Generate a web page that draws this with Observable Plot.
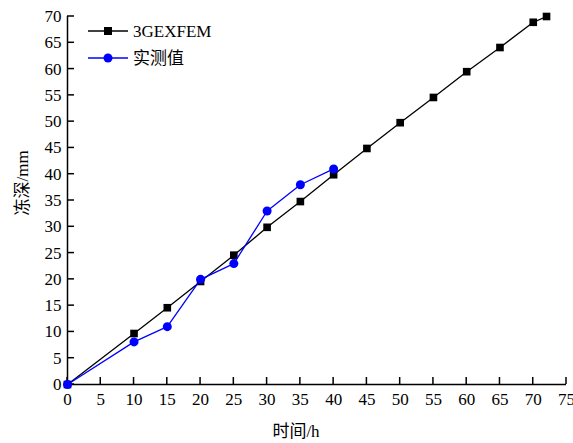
<!DOCTYPE html>
<html>
<head>
<meta charset="utf-8">
<script src="https://cdn.jsdelivr.net/npm/d3@7"></script>
<script src="https://cdn.jsdelivr.net/npm/@observablehq/plot@0.6"></script>
<style>
  html, body { margin: 0; padding: 0; background: #fff; }
  svg { font-family: "Liberation Serif", "Noto Sans CJK SC", serif; }
</style>
</head>
<body>
<div id="chart"></div>
<script>
const femTime = [0, 10, 15, 20, 25, 30, 35, 40, 45, 50, 55, 60, 65, 70, 72];
const femDepth = [0, 9.7, 14.6, 19.6, 24.6, 29.9, 34.8, 39.9, 44.9, 49.8, 54.6, 59.5, 64.1, 68.9, 70];
const obsTime = [0, 10, 15, 20, 25, 30, 35, 40];
const obsDepth = [0, 8.1, 11, 20, 23, 33, 38, 41];
const xTicks = d3.range(0, 76, 5);
const yTicks = d3.range(0, 71, 5);
const seriesNames = ["3GEXFEM", "实测值"];
const xLabel = "时间/h";
const yLabel = "冻深/mm";

const fem = femTime.map((t, i) => ({t, d: femDepth[i]}));
const obs = obsTime.map((t, i) => ({t, d: obsDepth[i]}));

const W = 573, H = 443;
const mL = 67, mR = 7, mT = 16, mB = 59;
const tickLen = 7;

const plot = Plot.plot({
  width: W, height: H,
  marginLeft: mL, marginRight: mR, marginTop: mT, marginBottom: mB,
  style: {fontFamily: '"Liberation Serif", "Noto Sans CJK SC", serif', fontSize: "16px", background: "#fff", color: "#000"},
  x: {domain: [0, 75], ticks: xTicks, tickSize: 0, tickPadding: 8, label: null},
  y: {domain: [0, 70], ticks: yTicks, tickSize: 0, tickPadding: 6, label: null},
  marks: [
    Plot.axisX({ticks: xTicks, tickSize: 0, tickPadding: 8, fontSize: 17, label: null}),
    Plot.axisY({ticks: yTicks, tickSize: 0, tickPadding: 6, fontSize: 17, label: null}),
    Plot.ruleY([0], {stroke: "#000", strokeWidth: 1.5}),
    Plot.ruleX([0], {stroke: "#000", strokeWidth: 1.5}),
    Plot.line(fem, {x: "t", y: "d", stroke: "#000", strokeWidth: 1.3}),
    Plot.dot(fem, {x: "t", y: "d", symbol: "square", r: 4.3, fill: "#000", stroke: "none"}),
    Plot.line(obs, {x: "t", y: "d", stroke: "#0000ff", strokeWidth: 1.3}),
    Plot.dot(obs, {x: "t", y: "d", symbol: "circle", r: 4.5, fill: "#0000ff", stroke: "none"}),
    Plot.text([xLabel], {text: d => d, frameAnchor: "bottom", dy: 52, dx: -21, fontSize: 17, fill: "#000"}),
    Plot.text([yLabel], {text: d => d, frameAnchor: "left", dx: -45, dy: 15, rotate: -90, fontSize: 17, fill: "#000"})
  ]
});

const svg = d3.select(plot);
const sx = plot.scale("x"), sy = plot.scale("y");
const y0 = sy.apply(0), x0 = sx.apply(0);

// Inward tick marks, positioned through Plot's own scales, drawn beneath the data
const tg = svg.insert("g", ":first-child").attr("stroke", "#000").attr("stroke-width", 1.5);
xTicks.forEach(v => {
  const px = sx.apply(v);
  tg.append("line").attr("x1", px).attr("x2", px).attr("y1", y0).attr("y2", y0 - tickLen);
});
yTicks.forEach(v => {
  const py = sy.apply(v);
  tg.append("line").attr("x1", x0).attr("x2", x0 + tickLen).attr("y1", py).attr("y2", py);
});

// Legend
const lg = svg.append("g").attr("text-anchor", "start");
const items = [
  {name: seriesNames[0], color: "#000", sym: "square", y: 31},
  {name: seriesNames[1], color: "#0000ff", sym: "circle", y: 58}
];
items.forEach(it => {
  lg.append("line").attr("x1", 88).attr("x2", 128).attr("y1", it.y).attr("y2", it.y)
    .attr("stroke", it.color).attr("stroke-width", 1.3);
  if (it.sym === "square") {
    lg.append("rect").attr("x", 104).attr("y", it.y - 4).attr("width", 8).attr("height", 8).attr("fill", it.color);
  } else {
    lg.append("circle").attr("cx", 108).attr("cy", it.y).attr("r", 4.5).attr("fill", it.color);
  }
  lg.append("text").attr("x", 133).attr("y", it.y).attr("dy", "0.35em")
    .attr("text-anchor", "start")
    .attr("font-size", 17).attr("fill", "#000").text(it.name);
});

document.getElementById("chart").appendChild(plot);
</script>
</body>
</html>
